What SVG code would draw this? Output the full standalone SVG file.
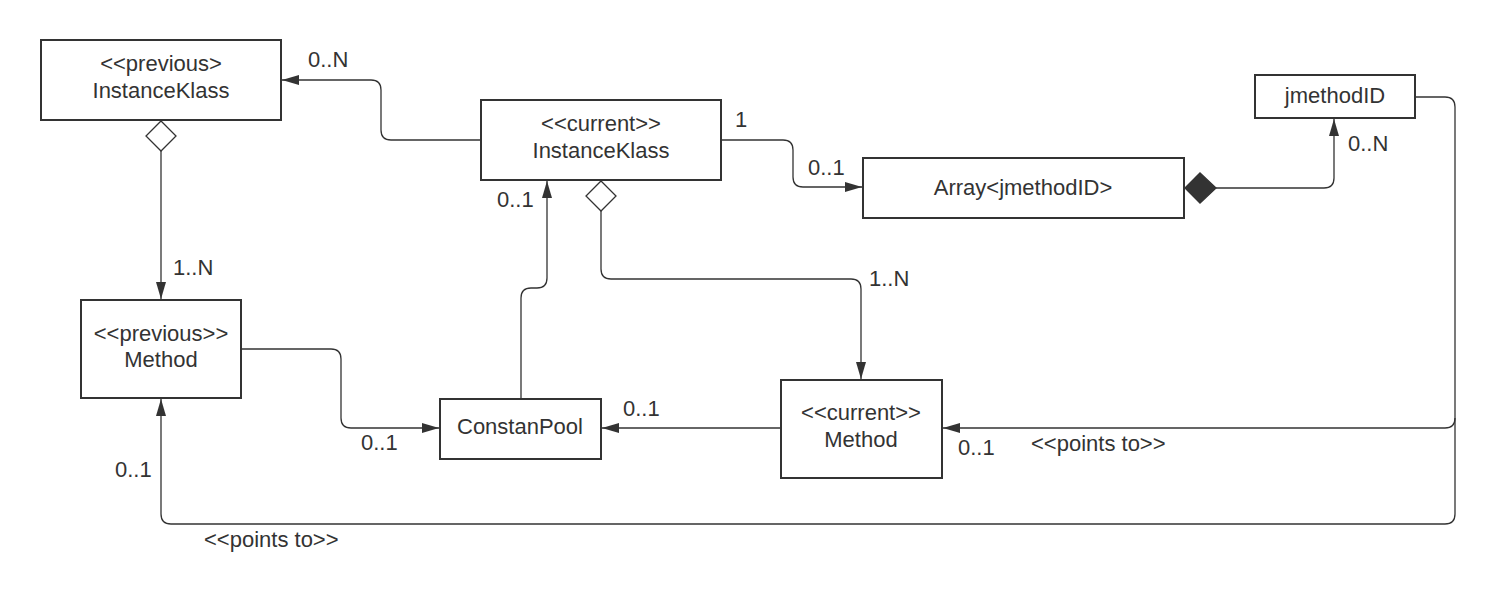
<svg xmlns="http://www.w3.org/2000/svg" width="1496" height="596" viewBox="0 0 1496 596">
<style>
  .box { fill: #ffffff; stroke: #333333; stroke-width: 2; }
  .t { font-family: "Liberation Sans", Arial, sans-serif; font-size: 22px; fill: #333333; }
  .c { text-anchor: middle; }
  .line { fill: none; stroke: #333333; stroke-width: 1.3; }
  .arr { marker-end: url(#arrow); }
  .odia { fill: #ffffff; stroke: #333333; stroke-width: 1.3; }
  .fdia { fill: #333333; stroke: #333333; stroke-width: 1.3; }
</style>
<defs>
  <marker id="arrow" markerUnits="userSpaceOnUse" markerWidth="18" markerHeight="12" refX="17" refY="6" orient="auto">
    <path d="M0,1 L17,6 L0,11 Z" fill="#333333"/>
  </marker>
</defs>
<rect width="1496" height="596" fill="#ffffff"/>

<g id="connectors">
  <path class="line arr" d="M481,140 H391 Q381,140 381,130 V90 Q381,80 371,80 H282"/>
  <path class="line arr" d="M161,151 V299"/>
  <path class="line arr" d="M721,140 H783 Q793,140 793,150 V177 Q793,187 803,187 H862"/>
  <path class="line arr" d="M1216,188 H1324 Q1334,188 1334,178 V119"/>
  <path class="line arr" d="M601,210 V269 Q601,279 611,279 H851 Q861,279 861,289 V379"/>
  <path class="line arr" d="M521,399 V298 Q521,288 531,288 H537 Q547,288 547,278 V181"/>
  <path class="line arr" d="M241,349 H331 Q341,349 341,359 V418 Q341,428 351,428 H439"/>
  <path class="line arr" d="M781,428 H602"/>
  <path class="line arr" d="M1415,97 H1445 Q1455,97 1455,107 V418 Q1455,428 1445,428 H943"/>
  <path class="line arr" d="M1455,418 V514 Q1455,524 1445,524 H171 Q161,524 161,514 V399"/>
  <polygon class="odia" points="161,121 176,136 161,151 146,136"/>
  <polygon class="odia" points="601,181 616,196 601,211 586,196"/>
  <polygon class="fdia" points="1185,188 1200,173 1216,188 1200,203"/>
</g>

<g id="prev-instanceklass">
  <rect class="box" x="41" y="40" width="240" height="80"/>
  <text class="t c" x="161" y="71">&lt;&lt;previous&gt;</text>
  <text class="t c" x="161" y="98">InstanceKlass</text>
</g>
<g id="current-instanceklass">
  <rect class="box" x="481" y="100" width="240" height="80"/>
  <text class="t c" x="601" y="131">&lt;&lt;current&gt;&gt;</text>
  <text class="t c" x="601" y="158">InstanceKlass</text>
</g>
<g id="array-jmethodid">
  <rect class="box" x="863" y="158" width="321" height="60"/>
  <text class="t c" x="1023" y="195">Array&lt;jmethodID&gt;</text>
</g>
<g id="jmethodid">
  <rect class="box" x="1255" y="75" width="160" height="43"/>
  <text class="t c" x="1335" y="103">jmethodID</text>
</g>
<g id="prev-method">
  <rect class="box" x="81" y="300" width="160" height="98"/>
  <text class="t c" x="161" y="341">&lt;&lt;previous&gt;&gt;</text>
  <text class="t c" x="161" y="367">Method</text>
</g>
<g id="constanpool">
  <rect class="box" x="440" y="399" width="161" height="60"/>
  <text class="t c" x="520" y="434">ConstanPool</text>
</g>
<g id="current-method">
  <rect class="box" x="781" y="380" width="161" height="98"/>
  <text class="t c" x="861" y="420">&lt;&lt;current&gt;&gt;</text>
  <text class="t c" x="861" y="447">Method</text>
</g>

<g id="labels">
  <text class="t" x="308" y="67">0..N</text>
  <text class="t" x="173" y="275">1..N</text>
  <text class="t" x="735" y="127">1</text>
  <text class="t" x="808" y="175">0..1</text>
  <text class="t" x="497" y="207">0..1</text>
  <text class="t" x="869" y="286">1..N</text>
  <text class="t" x="1348" y="151">0..N</text>
  <text class="t" x="361" y="450">0..1</text>
  <text class="t" x="115" y="477">0..1</text>
  <text class="t" x="204" y="547">&lt;&lt;points to&gt;&gt;</text>
  <text class="t" x="623" y="416">0..1</text>
  <text class="t" x="958" y="455">0..1</text>
  <text class="t" x="1031" y="451">&lt;&lt;points to&gt;&gt;</text>
</g>
</svg>
